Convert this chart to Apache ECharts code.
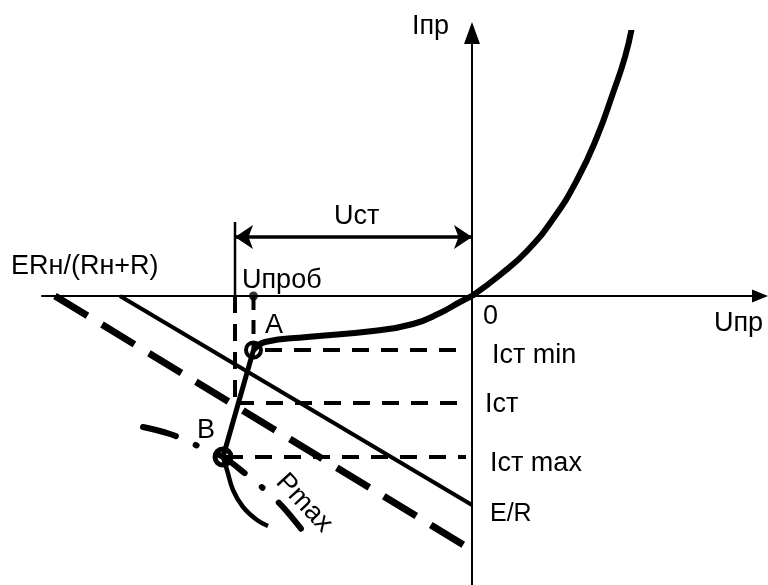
<!DOCTYPE html>
<html>
<head>
<meta charset="utf-8">
<script src="https://cdn.jsdelivr.net/npm/echarts@6/dist/echarts.min.js"></script>
<style>
  html, body { margin: 0; padding: 0; background: #fff; }
  #main { width: 768px; height: 585px; }
</style>
</head>
<body>
<div id="main"></div>
<script>
// условные единицы: U по горизонтали, I по вертикали (1 ед. ~ 10 px)
var fwdU = [0, 2.8, 5.5, 8.1, 10.5, 12.5, 14.1, 15.3, 16.0];
var fwdI = [0, 2.1, 4.5, 7.7, 11.6, 15.9, 20.3, 23.9, 26.9];

// обратная ветвь от нуля до точки A
var revU = [0, -1.2, -3.2, -5.9, -9.9, -16.5, -20.7, -21.85];
var revI = [0, -0.6, -1.7, -2.8, -3.5, -4.1, -4.6, -5.4];

// участок после точки B
var tailU = [-24.9, -24.5, -23.9, -22.9, -21.5, -20.4];
var tailI = [-16.1, -17.4, -19.4, -21.1, -22.4, -23.0];

// гипербола Pmax
var pmaxU = [-32.9, -30.2, -27.4, -24.9, -22.5, -20.8, -19.0, -17.0];
var pmaxI = [-13.1, -13.8, -15.0, -16.1, -17.9, -19.3, -21.0, -23.4];

var uSt = -23.7;     // Uст
var uProb = -21.85;  // Uпроб
var iMin = -5.4, iSt = -10.7, iMax = -16.1;
var uB = -24.9;
var uDim = 5.9;      // уровень размерной линии Uст

var loadSolid = [[-35.2, 0], [0, -20.9]];   // E/R
var loadDash = [[-41.7, 0], [0, -25.4]];

function zip(a, b) {
  var r = [];
  for (var i = 0; i < a.length; i++) r.push([a[i], b[i]]);
  return r;
}

var chart = echarts.init(document.getElementById('main'));
var FAM = '"Liberation Sans", Arial, sans-serif';
var FONT = '27px ' + FAM;
var black = '#000';

function txt(x, y, s, extra) {
  var o = {
    type: 'text', x: x, y: y,
    style: { text: s, font: FONT, fill: black, align: 'left', verticalAlign: 'middle' }
  };
  if (extra) {
    for (var k in extra) {
      if (k === 'style') { for (var j in extra.style) o.style[j] = extra.style[j]; }
      else o[k] = extra[k];
    }
  }
  return o;
}

var dashLevel = [17, 12];

option = {
  animation: false,
  backgroundColor: '#fff',
  grid: { left: 42, right: 8, top: 33, bottom: 0 },
  xAxis: {
    type: 'value', min: -43, max: 28.8,
    axisLine: { onZero: true, lineStyle: { color: black, width: 2 },
      symbol: ['none', 'triangle'], symbolSize: [13, 16] },
    axisTick: { show: false }, axisLabel: { show: false }, splitLine: { show: false }
  },
  yAxis: {
    type: 'value', min: -28.9, max: 26.3,
    axisLine: { onZero: true, lineStyle: { color: black, width: 2 },
      symbol: ['none', 'triangle'], symbolSize: [16, 22] },
    axisTick: { show: false }, axisLabel: { show: false }, splitLine: { show: false }
  },
  series: [
    { type: 'line', data: zip(fwdU, fwdI), smooth: 0.5, showSymbol: false,
      lineStyle: { color: black, width: 6 } },
    { type: 'line', data: zip(revU, revI), smooth: 0.5, showSymbol: false,
      lineStyle: { color: black, width: 6 } },
    { type: 'line', data: [[uProb, iMin], [uB, iMax]], showSymbol: false,
      lineStyle: { color: black, width: 5 } },
    { type: 'line', data: zip(tailU, tailI), smooth: 0.4, showSymbol: false,
      lineStyle: { color: black, width: 4.5 } },
    { type: 'line', data: zip(pmaxU, pmaxI), smooth: 0.4, showSymbol: false,
      lineStyle: { color: black, width: 6, type: [34, 22, 1, 22], cap: 'round' } },
    { type: 'line', data: loadSolid, showSymbol: false,
      lineStyle: { color: black, width: 4 } },
    { type: 'line', data: loadDash, showSymbol: false,
      lineStyle: { color: black, width: 7, type: [38, 17] } },
    // уровни токов
    { type: 'line', data: [[-20.7, iMin], [-0.6, iMin]], showSymbol: false,
      lineStyle: { color: black, width: 4, type: dashLevel } },
    { type: 'line', data: [[-23.5, iSt], [-0.6, iSt]], showSymbol: false,
      lineStyle: { color: black, width: 4, type: dashLevel } },
    { type: 'line', data: [[-24.6, iMax], [-0.6, iMax]], showSymbol: false,
      lineStyle: { color: black, width: 4, type: dashLevel } },
    // вертикальные штриховые
    { type: 'line', data: [[uSt, 0], [uSt, iSt]], showSymbol: false,
      lineStyle: { color: black, width: 4, type: [17, 11] } },
    { type: 'line', data: [[uProb, 0], [uProb, iMin]], showSymbol: false,
      lineStyle: { color: black, width: 4, type: [14, 10] } },
    // выносная линия Uст
    { type: 'line', data: [[uSt, 7.4], [uSt, 0]], showSymbol: false,
      lineStyle: { color: black, width: 2.5 } },
    { type: 'lines', coordinateSystem: 'cartesian2d', symbol: ['arrow', 'arrow'], symbolSize: 18,
      lineStyle: { color: black, width: 3.5, opacity: 1 },
      data: [{ coords: [[uSt, uDim], [0, uDim]] }] },
    // точки A, B и Uпроб
    { type: 'scatter', data: [[uProb, iMin]], symbolSize: 15,
      itemStyle: { color: '#fff', borderColor: black, borderWidth: 4, opacity: 1 } },
    { type: 'scatter', data: [[uB, iMax]], symbolSize: 16,
      itemStyle: { color: '#fff', borderColor: black, borderWidth: 5, opacity: 1 } },
    { type: 'scatter', data: [[uProb, 0]], symbolSize: 9,
      itemStyle: { color: black } }
  ],
  graphic: [
    txt(412, 27, 'Iпр'),
    txt(334, 217, 'Uст'),
    txt(11, 267, 'ERн/(Rн+R)'),
    txt(242, 281, 'Uпроб'),
    txt(265, 326, 'A'),
    txt(197, 431, 'B'),
    txt(483, 317, '0'),
    txt(714, 324, 'Uпр'),
    txt(492, 356, 'Iст min'),
    txt(485, 405, 'Iст'),
    txt(490, 464, 'Iст max'),
    txt(490, 514, 'E/R', { style: { font: '25px ' + FAM } }),
    txt(304, 503, 'Pmax', { rotation: -47 * Math.PI / 180, style: { align: 'center' } })
  ]
};
chart.setOption(option);
</script>
</body>
</html>
